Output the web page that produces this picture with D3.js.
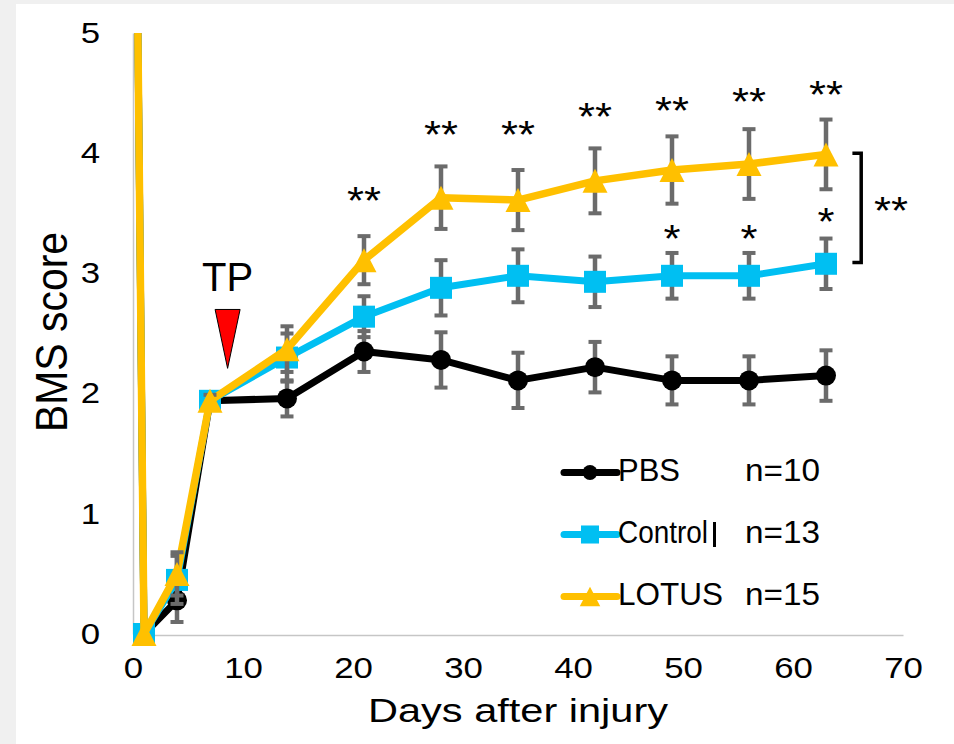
<!DOCTYPE html>
<html>
<head>
<meta charset="utf-8">
<script src="https://cdn.jsdelivr.net/npm/d3@7/dist/d3.min.js"></script>
<style>
  html, body { margin: 0; padding: 0; background: #f0f0f0; }
  svg { display: block; font-family: "Liberation Sans", Arial, Helvetica, sans-serif; }
</style>
</head>
<body>
<svg class="chart" width="954" height="744"></svg>
<script>
// values (day 0 = pre-injury score, off the top of the plot)
var days = [0, 1, 4, 7, 14, 21, 28, 35, 42, 49, 56, 63];
var pbs = [9, 0, 0.28, 1.94, 1.96, 2.35, 2.28, 2.11, 2.22, 2.11, 2.11, 2.15];
var pbs_err = [0, 0, 0.18, 0.05, 0.15, 0.17, 0.23, 0.23, 0.21, 0.20, 0.20, 0.21];
var control = [9, 0, 0.45, 1.94, 2.30, 2.64, 2.88, 2.98, 2.93, 2.98, 2.98, 3.08];
var control_err = [0, 0, 0.20, 0.05, 0.20, 0.17, 0.23, 0.22, 0.21, 0.19, 0.19, 0.21];
var lotus = [9, 0, 0.50, 1.94, 2.37, 3.11, 3.63, 3.61, 3.77, 3.86, 3.91, 3.99];
var lotus_err = [0, 0, 0.18, 0.05, 0.19, 0.20, 0.26, 0.25, 0.27, 0.28, 0.29, 0.29];

var series_names = ["PBS", "Control", "LOTUS"];
var series_n = ["n=10", "n=13", "n=15"];

var x_ticks = [0, 10, 20, 30, 40, 50, 60, 70];
var y_ticks = [0, 1, 2, 3, 4, 5];

// significance marks: LOTUS vs PBS (**) and LOTUS vs Control (*)
var sig_days = [21, 28, 35, 42, 49, 56, 63];
var sig_levels = [3.68, 4.23, 4.23, 4.38, 4.43, 4.50, 4.56];
var sig2_days = [49, 56, 63];
var sig2_levels = [3.36, 3.36, 3.50];

var w = 954,
    h = 744;

var chart = d3.select(".chart");

chart.append("rect")
  .attr("x", 16).attr("y", 4)
  .attr("width", w - 16).attr("height", h - 4)
  .attr("fill", "#fff");

var x = d3.scaleLinear().domain([0, 70]).range([133, 903]);
var y = d3.scaleLinear().domain([0, 5]).range([634, 33]);

function stretch(sel, k) {
  sel.each(function() {
    d3.select(this)
      .attr("textLength", this.getComputedTextLength() * k)
      .attr("lengthAdjust", "spacingAndGlyphs");
  });
}

// axes
var x_axis = chart.append("g")
  .attr("transform", "translate(0," + (y(0) + 1) + ")")
  .call(d3.axisBottom(x).tickValues(x_ticks).tickFormat(d3.format("d"))
    .tickSize(0).tickSizeOuter(0).tickPadding(22));

var y_axis = chart.append("g")
  .attr("transform", "translate(" + x(0) + ",0)")
  .call(d3.axisLeft(y).tickValues(y_ticks).tickFormat(d3.format("d"))
    .tickSize(0).tickSizeOuter(0).tickPadding(33));

chart.selectAll(".domain").attr("stroke", "#c6c6c6").attr("stroke-width", 1.5);
chart.selectAll(".tick text")
  .attr("font-family", null)
  .attr("font-size", 29)
  .attr("fill", "#000");
stretch(chart.selectAll(".tick text"), 1.2);

var x_label = chart.append("text")
  .attr("x", 518).attr("y", 722)
  .attr("text-anchor", "middle")
  .attr("font-size", 34)
  .attr("textLength", 300)
  .attr("lengthAdjust", "spacingAndGlyphs")
  .text("Days after injury");

var y_label = chart.append("text")
  .attr("transform", "translate(67,332) scale(1.12,1) rotate(-90)")
  .attr("text-anchor", "middle")
  .attr("font-size", 40)
  .attr("textLength", 200)
  .attr("lengthAdjust", "spacingAndGlyphs")
  .text("BMS score");

// plot
chart.append("clipPath").attr("id", "plot_clip")
  .append("rect").attr("x", 0).attr("y", y(5)).attr("width", w).attr("height", h);

var plot = chart.append("g").attr("clip-path", "url(#plot_clip)");

var series = [
  {name: "PBS", values: pbs, err: pbs_err, color: "#000000", shape: "circle", width: 7},
  {name: "Control", values: control, err: control_err, color: "#00BFF2", shape: "square", width: 7},
  {name: "LOTUS", values: lotus, err: lotus_err, color: "#FFC000", shape: "triangle", width: 7.5}
];

var line = d3.line()
  .x(function(d, i) { return x(days[i]); })
  .y(function(d) { return y(d); });

var tri = "M0,-12L12.5,12L-12.5,12Z";

function drawMarker(sel, shape, color, size) {
  if (shape == "circle") {
    sel.append("circle").attr("r", 10 * size).attr("fill", color);
  } else if (shape == "square") {
    sel.append("rect")
      .attr("x", -11 * size).attr("y", -11 * size)
      .attr("width", 22 * size).attr("height", 22 * size)
      .attr("fill", color);
  } else {
    sel.append("path").attr("d", tri).attr("transform", "scale(" + size + ")").attr("fill", color);
  }
}

series.forEach(function(s) {
  var g = plot.append("g").attr("class", "series");

  g.append("path")
    .attr("d", line(s.values))
    .attr("fill", "none")
    .attr("stroke", s.color)
    .attr("stroke-width", s.width)
    .attr("stroke-linejoin", "round");

  var idx = d3.range(days.length).filter(function(i) { return s.err[i] > 0 && s.values[i] <= 5; });

  var bars = g.selectAll(".errbar").data(idx)
    .enter().append("g")
      .attr("class", "errbar")
      .attr("stroke", "#6b6b6b");

  bars.append("line")
    .attr("x1", function(i) { return x(days[i]); })
    .attr("x2", function(i) { return x(days[i]); })
    .attr("y1", function(i) { return y(s.values[i] - s.err[i]); })
    .attr("y2", function(i) { return y(s.values[i] + s.err[i]); })
    .attr("stroke-width", 4.5);

  [-1, 1].forEach(function(sign) {
    bars.append("line")
      .attr("x1", function(i) { return x(days[i]) - 6.5; })
      .attr("x2", function(i) { return x(days[i]) + 6.5; })
      .attr("y1", function(i) { return y(s.values[i] + sign * s.err[i]); })
      .attr("y2", function(i) { return y(s.values[i] + sign * s.err[i]); })
      .attr("stroke-width", 4);
  });

  var pts = g.selectAll(".point").data(s.values)
    .enter().append("g")
      .attr("class", "point")
      .attr("transform", function(d, i) { return "translate(" + x(days[i]) + "," + y(d) + ")"; });
  drawMarker(pts, s.shape, s.color, 1);
});

// significance asterisks
var stars = chart.append("g")
  .attr("font-size", 38)
  .attr("text-anchor", "middle");

stars.selectAll(".sig").data(sig_days)
  .enter().append("text")
    .attr("class", "sig")
    .attr("x", function(d) { return x(d); })
    .attr("y", function(d, i) { return y(sig_levels[i]) + 22; })
    .text("**");

stars.selectAll(".sig2").data(sig2_days)
  .enter().append("text")
    .attr("class", "sig2")
    .attr("x", function(d) { return x(d); })
    .attr("y", function(d, i) { return y(sig2_levels[i]) + 22; })
    .text("*");

stretch(stars.selectAll("text"), 1.15);

// bracket LOTUS vs Control at the end
chart.append("path")
  .attr("d", "M" + x(65.4) + "," + y(4.0) + "H" + x(66.2) + "V" + y(3.09) + "H" + x(65.4))
  .attr("fill", "none")
  .attr("stroke", "#000")
  .attr("stroke-width", 3.5);

var bracket_label = stars.append("text")
  .attr("x", x(68.9))
  .attr("y", y(3.59) + 22)
  .text("**");
stretch(bracket_label, 1.15);

// transplantation marker
chart.append("text")
  .attr("x", x(8.6)).attr("y", y(2.85))
  .attr("text-anchor", "middle")
  .attr("font-size", 40)
  .text("TP");

chart.append("path")
  .attr("d", "M" + (x(8.6) - 12.5) + "," + y(2.70) + "L" + (x(8.6) + 12.5) + "," + y(2.70) + "L" + x(8.6) + "," + y(2.21) + "Z")
  .attr("fill", "#ff0000")
  .attr("stroke", "#000")
  .attr("stroke-width", 1);

// legend
var legend_rows = [481, 543, 605];
var legend_len = [62, 90, 105];

var legend = chart.selectAll(".legend").data(series)
  .enter().append("g")
    .attr("class", "legend")
    .attr("transform", function(d, i) { return "translate(0," + legend_rows[i] + ")"; });

legend.append("line")
  .attr("x1", 564).attr("x2", 617)
  .attr("y1", -8.5).attr("y2", -8.5)
  .attr("stroke", function(d) { return d.color; })
  .attr("stroke-width", 7)
  .attr("stroke-linecap", "round");

legend.each(function(d) {
  var m = d3.select(this).append("g").attr("transform", "translate(590,-8.5)");
  drawMarker(m, d.shape, d.color, d.shape == "circle" ? 0.75 : 0.82);
});

legend.append("text")
  .attr("x", 618)
  .attr("font-size", 31)
  .attr("textLength", function(d, i) { return legend_len[i]; })
  .attr("lengthAdjust", "spacingAndGlyphs")
  .text(function(d, i) { return series_names[i]; });

legend.append("text")
  .attr("x", 745)
  .attr("font-size", 31)
  .attr("textLength", 75)
  .attr("lengthAdjust", "spacingAndGlyphs")
  .text(function(d, i) { return series_n[i]; });

// stray bar after "Control" in the original
chart.append("line")
  .attr("x1", 714.5).attr("x2", 714.5)
  .attr("y1", legend_rows[1] - 21).attr("y2", legend_rows[1] + 4)
  .attr("stroke", "#000")
  .attr("stroke-width", 3);
</script>
</body>
</html>
